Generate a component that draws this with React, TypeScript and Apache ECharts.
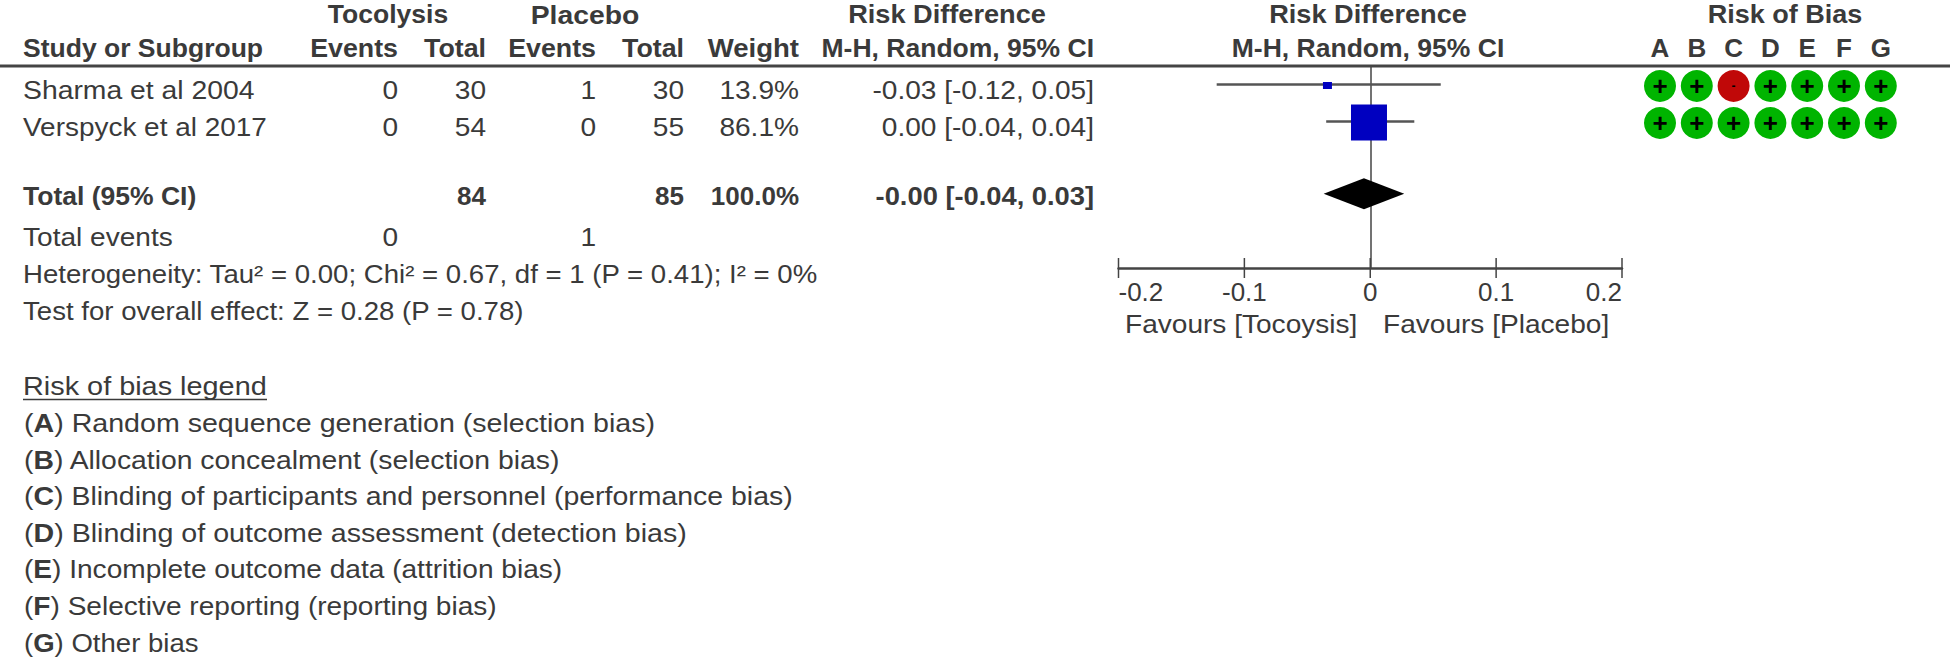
import React, { useEffect, useRef } from "react";
import * as echarts from "echarts";

const studies = ["Sharma et al 2004", "Verspyck et al 2017"];
const tocolysisEvents = ["0", "0"];
const tocolysisTotals = ["30", "54"];
const placeboEvents = ["1", "0"];
const placeboTotals = ["30", "55"];
const weights = ["13.9%", "86.1%"];
const effectLabels = ["-0.03 [-0.12, 0.05]", "0.00 [-0.04, 0.04]"];
const markMid = [-0.034, -0.001];
const markLow = [-0.122, -0.035];
const markHigh = [0.056, 0.035];
const markRow = [0.5, 1.5];
const totalMid = -0.005;
const totalLow = -0.037;
const totalHigh = 0.027;
const totalRow = 3.45;
const axisTicks = [-0.2, -0.1, 0, 0.1, 0.2];
const robLetters = ["A", "B", "C", "D", "E", "F", "G"];
const robRows = [
  ["+", "+", "-", "+", "+", "+", "+"],
  ["+", "+", "+", "+", "+", "+", "+"],
];
const legendKeys = ["A", "B", "C", "D", "E", "F", "G"];
const legendTexts = [
  "Random sequence generation (selection bias)",
  "Allocation concealment (selection bias)",
  "Blinding of participants and personnel (performance bias)",
  "Blinding of outcome assessment (detection bias)",
  "Incomplete outcome data (attrition bias)",
  "Selective reporting (reporting bias)",
  "Other bias",
];

const markSize: [number, number][] = [[9, 7], [36, 36]];
const legendScale = [1.1, 1.09, 1.095, 1.1, 1.08, 1.08, 1.06];
const studyScale = [1.09, 1.075];
const FONT = "'Liberation Sans', Arial, sans-serif";
const FS = 26;
const INK = "#3a3a3a";
const rowY = [90, 127];

function t(text: string, x: number, y: number, align = "left", bold = false, sx = 1.08) {
  return {
    type: "text",
    x,
    y,
    scaleX: sx,
    silent: true,
    style: {
      text,
      fill: INK,
      font: `${bold ? "bold " : ""}${FS}px ${FONT}`,
      textAlign: align,
      textVerticalAlign: "middle",
    },
  };
}

function buildGraphics() {
  const g: any[] = [];
  const C = { ev1: 398, tot1: 486, ev2: 596, tot2: 684, wt: 799, rd: 1094 };
  const H1 = 14.5;
  g.push(t("Tocolysis", 388, H1, "center", true, 1.02));
  g.push(t("Placebo", 585, H1, "center", true, 1.09));
  g.push(t("Risk Difference", 947, H1, "center", true, 1.045));
  g.push(t("Risk Difference", 1368, H1, "center", true, 1.045));
  g.push(t("Risk of Bias", 1785, H1, "center", true, 1.04));
  g.push(t("Study or Subgroup", 23, 48, "left", true, 1.02));
  g.push(t("Events", C.ev1, 48, "right", true, 1.03));
  g.push(t("Total", C.tot1, 48, "right", true, 1.03));
  g.push(t("Events", C.ev2, 48, "right", true, 1.03));
  g.push(t("Total", C.tot2, 48, "right", true, 1.03));
  g.push(t("Weight", C.wt, 48, "right", true, 1.06));
  g.push(t("M-H, Random, 95% CI", C.rd, 48, "right", true, 1.02));
  g.push(t("M-H, Random, 95% CI", 1368, 48, "center", true, 1.02));
  studies.forEach((s, i) => {
    const y = rowY[i];
    g.push(t(s, 23, y, "left", false, studyScale[i]));
    g.push(t(tocolysisEvents[i], C.ev1, y, "right"));
    g.push(t(tocolysisTotals[i], C.tot1, y, "right"));
    g.push(t(placeboEvents[i], C.ev2, y, "right"));
    g.push(t(placeboTotals[i], C.tot2, y, "right"));
    g.push(t(weights[i], C.wt, y, "right"));
    g.push(t(effectLabels[i], C.rd, y, "right"));
  });
  g.push(t("Total (95% CI)", 23, 196, "left", true, 1.02));
  g.push(t("84", C.tot1, 196, "right", true, 1));
  g.push(t("85", C.tot2, 196, "right", true, 1));
  g.push(t("100.0%", C.wt, 196, "right", true, 1));
  g.push(t("-0.00 [-0.04, 0.03]", C.rd, 196, "right", true, 1.05));
  g.push(t("Total events", 23, 237));
  g.push(t("0", C.ev1, 237, "right"));
  g.push(t("1", C.ev2, 237, "right"));
  g.push(t("Heterogeneity: Tau² = 0.00; Chi² = 0.67, df = 1 (P = 0.41); I² = 0%", 23, 274, "left", false, 1.062));
  g.push(t("Test for overall effect: Z = 0.28 (P = 0.78)", 23, 311, "left", false, 1.062));
  g.push(t("Favours [Tocoysis]", 1125, 324));
  g.push(t("Favours [Placebo]", 1383, 324));
  g.push(t("Risk of bias legend", 23, 386, "left", false, 1.11));
  g.push({
    type: "line",
    silent: true,
    shape: { x1: 23, y1: 399.5, x2: 267, y2: 399.5 },
    style: { stroke: INK, lineWidth: 1.5 },
  });
  legendTexts.forEach((v, i) => {
    g.push({
      type: "text",
      x: 24,
      y: 423 + i * 36.7,
      scaleX: legendScale[i],
      silent: true,
      style: {
        text: `({b|${legendKeys[i]}}) ${v}`,
        fill: INK,
        font: `${FS}px ${FONT}`,
        textVerticalAlign: "middle",
        rich: { b: { font: `bold ${FS}px ${FONT}`, fill: INK } },
      },
    });
  });
  g.push({
    type: "line",
    silent: true,
    shape: { x1: 0, y1: 66, x2: 1950, y2: 66 },
    style: { stroke: "#444", lineWidth: 3 },
  });
  return g;
}

export default function App() {
  const ref = useRef<HTMLDivElement>(null);
  useEffect(() => {
    document.body.style.margin = "0";
    const chart = echarts.init(ref.current!, null, { renderer: "svg" });
    const robData: any[] = [];
    robRows.forEach((row, r) => row.forEach((v, c) => robData.push([c, r, v])));
    chart.setOption({
      animation: false,
      backgroundColor: "#fff",
      graphic: buildGraphics(),
      grid: [
        { left: 1118.5, width: 503.5, top: 66, height: 202 },
        { left: 1641.6, width: 257.6, top: 67.5, height: 74 },
      ],
      xAxis: [
        {
          gridIndex: 0,
          type: "value",
          min: -0.2,
          max: 0.2,
          interval: 0.1,
          splitLine: { show: false },
          axisTick: { show: false },
          axisLine: { onZero: false, lineStyle: { color: "#444", width: 2.5 } },
          axisLabel: {
            margin: 11,
            color: INK,
            fontFamily: FONT,
            fontSize: FS,
            alignMinLabel: "left",
            alignMaxLabel: "right",
            formatter: (v: number) => String(Math.round(v * 10) / 10),
          },
        },
        {
          gridIndex: 1,
          type: "category",
          position: "top",
          data: robLetters,
          axisLine: { show: false },
          axisTick: { show: false },
          axisLabel: { margin: 7, color: INK, fontFamily: FONT, fontSize: FS, fontWeight: "bold" },
        },
      ],
      yAxis: [
        {
          gridIndex: 0,
          type: "value",
          inverse: true,
          min: 0,
          max: 202 / 37,
          splitLine: { show: false },
          axisTick: { show: false },
          axisLabel: { show: false },
          axisLine: { show: true, onZero: true, lineStyle: { color: "#444", width: 1.5 } },
        },
        {
          gridIndex: 1,
          type: "category",
          inverse: true,
          data: studies,
          axisLine: { show: false },
          axisTick: { show: false },
          axisLabel: { show: false },
        },
      ],
      series: [
        {
          type: "custom",
          xAxisIndex: 0,
          yAxisIndex: 0,
          clip: false,
          data: axisTicks.map((v) => [v]),
          renderItem: (_: any, api: any) => {
            const p = api.coord([api.value(0), 202 / 37]);
            return {
              type: "line",
              shape: { x1: p[0], y1: p[1] - 10, x2: p[0], y2: p[1] + 10 },
              style: { stroke: "#444", lineWidth: 1.5 },
            };
          },
        },
        {
          type: "custom",
          xAxisIndex: 0,
          yAxisIndex: 0,
          data: markMid.map((m, i) => [m, markLow[i], markHigh[i], markRow[i], i]),
          renderItem: (_: any, api: any) => {
            const row = api.value(3);
            const lo = api.coord([api.value(1), row]);
            const hi = api.coord([api.value(2), row]);
            const mid = api.coord([api.value(0), row]);
            const [w, h] = markSize[api.value(4)];
            return {
              type: "group",
              children: [
                {
                  type: "line",
                  shape: { x1: lo[0], y1: lo[1], x2: hi[0], y2: hi[1] },
                  style: { stroke: "#555", lineWidth: 2.5 },
                },
                {
                  type: "rect",
                  shape: { x: mid[0] - w / 2, y: mid[1] - h / 2 + 1, width: w, height: h },
                  style: { fill: "#0000c0" },
                },
              ],
            };
          },
        },
        {
          type: "custom",
          xAxisIndex: 0,
          yAxisIndex: 0,
          data: [[totalMid, totalLow, totalHigh, totalRow]],
          renderItem: (_: any, api: any) => {
            const row = api.value(3);
            const lo = api.coord([api.value(1), row]);
            const hi = api.coord([api.value(2), row]);
            const mid = api.coord([api.value(0), row]);
            return {
              type: "polygon",
              shape: {
                points: [
                  [lo[0], lo[1]],
                  [mid[0], mid[1] - 15.5],
                  [hi[0], hi[1]],
                  [mid[0], mid[1] + 15.5],
                ],
              },
              style: { fill: "#000" },
            };
          },
        },
        {
          type: "scatter",
          xAxisIndex: 1,
          yAxisIndex: 1,
          symbolSize: 32,
          data: robData.map((d) => ({
            value: d,
            itemStyle: { color: d[2] === "+" ? "#00b400" : "#c00808", opacity: 1 },
            label: {
              show: true,
              position: "inside",
              formatter: d[2],
              color: "#000",
              fontFamily: FONT,
              fontWeight: "bold",
              fontSize: d[2] === "+" ? 26 : 12,
            },
          })),
        },
      ],
    });
    return () => chart.dispose();
  }, []);
  return <div ref={ref} style={{ width: 1950, height: 660 }} />;
}
